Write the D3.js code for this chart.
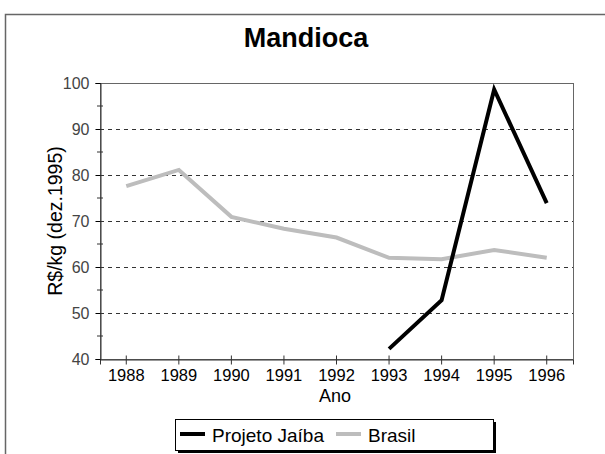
<!DOCTYPE html>
<html>
<head>
<meta charset="utf-8">
<script src="https://cdn.jsdelivr.net/npm/d3@7"></script>
<style>
  body { margin: 0; background: #fff; }
  text { font-family: "Liberation Sans", Arial, sans-serif; fill: #000; }
</style>
</head>
<body>
<div id="chart"></div>
<script>
// Data
const years = [1988, 1989, 1990, 1991, 1992, 1993, 1994, 1995, 1996];
const brasil = [77.6, 81.1, 70.9, 68.3, 66.4, 62.0, 61.7, 63.7, 62.0];
const jaiba = [null, null, null, null, null, 42.2, 52.8, 98.6, 73.9];
const yTicks = [40, 50, 60, 70, 80, 90, 100];
const seriesNames = ["Projeto Jaíba", "Brasil"];

const chart = {width: 605, height: 454, margin: {left: 100, top: 83, right: 32, bottom: 95}};
chart.innerWidth = chart.width - chart.margin.left - chart.margin.right;
chart.innerHeight = chart.height - chart.margin.top - chart.margin.bottom;

const svg = d3.select("#chart").append("svg")
    .attr("width", chart.width)
    .attr("height", chart.height);

// outer frame
svg.append("rect")
    .attr("x", 5.5).attr("y", 14.5)
    .attr("width", 640).attr("height", 500)
    .attr("fill", "none").attr("stroke", "#666").attr("stroke-width", 1.5);

svg.append("text")
    .attr("x", 306).attr("y", 47)
    .attr("text-anchor", "middle")
    .style("font-size", "27px").style("font-weight", "bold")
    .text("Mandioca");

const g = svg.append("g")
    .attr("transform", `translate(${chart.margin.left}, ${chart.margin.top})`);

const x = d3.scaleBand().domain(years).range([0, chart.innerWidth]);
const y = d3.scaleLinear().domain([40, 100]).range([chart.innerHeight, 0]);
const cx = d => x(d) + x.bandwidth() / 2;

// grid lines
g.append("g").selectAll("line")
    .data(yTicks.filter(d => d > 40 && d < 100))
    .enter().append("line")
    .attr("x1", 0).attr("x2", chart.innerWidth)
    .attr("y1", d => Math.round(y(d)) + 0.5).attr("y2", d => Math.round(y(d)) + 0.5)
    .attr("stroke", "#333").attr("stroke-dasharray", "4,4");

// plot frame
g.append("rect")
    .attr("x", 0.5).attr("y", 0.5)
    .attr("width", chart.innerWidth).attr("height", chart.innerHeight)
    .attr("fill", "none").attr("stroke", "#666");

// y axis
const yAxis = g.append("g")
    .attr("transform", "translate(0.5,0)")
    .call(d3.axisLeft(y).tickValues(yTicks).tickSize(5).tickPadding(6));
yAxis.select(".domain").attr("stroke", "#333");
yAxis.selectAll("text").style("font-size", "16px").style("fill", "#444");
g.append("g").selectAll("line")
    .data(d3.range(45, 100, 10))
    .enter().append("line")
    .attr("x1", -3).attr("x2", 3)
    .attr("y1", d => y(d)).attr("y2", d => y(d))
    .attr("stroke", "#333");

// x axis
const xAxis = g.append("g")
    .attr("transform", `translate(0, ${chart.innerHeight + 0.5})`)
    .call(d3.axisBottom(x).tickSize(5).tickPadding(5));
xAxis.select(".domain").attr("stroke", "#333");
xAxis.selectAll(".tick line").attr("y1", -4).attr("stroke", "#333");
xAxis.selectAll("text").style("font-size", "16.5px");

g.append("text")
    .attr("x", 235).attr("y", chart.innerHeight + 43)
    .attr("text-anchor", "middle")
    .style("font-size", "18px")
    .text("Ano");

g.append("text")
    .attr("transform", `translate(-38, ${chart.innerHeight / 2}) rotate(-90)`)
    .attr("text-anchor", "middle")
    .style("font-size", "19.5px")
    .text("R$/kg (dez.1995)");

// lines
const line = d3.line()
    .defined(d => d.v !== null)
    .x(d => cx(d.year))
    .y(d => y(d.v));

g.append("path")
    .datum(years.map((year, i) => ({year, v: brasil[i]})))
    .attr("d", line)
    .attr("fill", "none").attr("stroke", "#bdbdbd").attr("stroke-width", 4);

g.append("path")
    .datum(years.map((year, i) => ({year, v: jaiba[i]})))
    .attr("d", line)
    .attr("fill", "none").attr("stroke", "#000").attr("stroke-width", 4);

// legend
const legend = svg.append("g").attr("transform", "translate(175, 419)");
legend.append("rect")
    .attr("x", 3).attr("y", 3).attr("width", 318).attr("height", 31)
    .attr("fill", "#000");
legend.append("rect")
    .attr("x", 0.5).attr("y", 0.5).attr("width", 318).attr("height", 31)
    .attr("fill", "#fff").attr("stroke", "#000");
const legendColors = ["#000", "#bdbdbd"];
const legendX = [5, 161];
seriesNames.forEach((name, i) => {
    legend.append("line")
        .attr("x1", legendX[i]).attr("x2", legendX[i] + 25)
        .attr("y1", 15).attr("y2", 15)
        .attr("stroke", legendColors[i]).attr("stroke-width", 4);
    legend.append("text")
        .attr("x", legendX[i] + 32).attr("y", 23)
        .style("font-size", "19px")
        .text(name);
});
</script>
</body>
</html>
